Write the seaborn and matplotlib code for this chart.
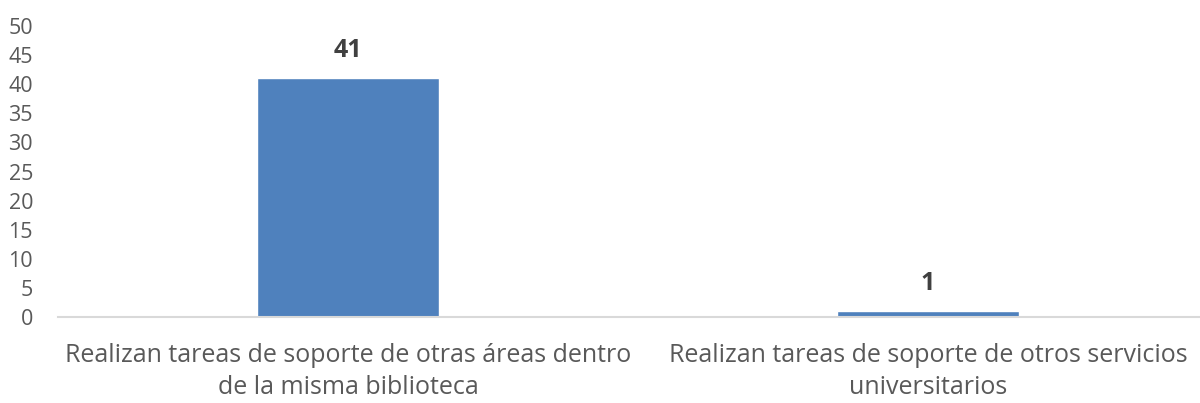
import matplotlib
matplotlib.use("Agg")
import matplotlib.pyplot as plt
import seaborn as sns
import pandas as pd

categories = [
    "Realizan tareas de soporte de otras áreas dentro\nde la misma biblioteca",
    "Realizan tareas de soporte de otros servicios\nuniversitarios",
]
values = [41, 1]
yticks = list(range(0, 55, 5))

sns.set_theme(style="white")
plt.rcParams["font.family"] = ["Open Sans", "DejaVu Sans"]

df = pd.DataFrame({"categoria": categories, "valor": values})

fig = plt.figure(figsize=(12, 4.03), dpi=100)
ax = fig.add_axes([58 / 1200, 86 / 403, 1142 / 1200, 291 / 403])

sns.barplot(data=df, x="categoria", y="valor", color="#4F81BD",
            saturation=1, width=0.315, ax=ax)

ax.set_xlim(-0.5, -0.5 + 1142 / 580)
ax.set_ylim(0, 50)
ax.set_yticks(yticks)
ax.set_yticklabels([str(t) for t in yticks], fontsize=15.5, color="#595959")
ax.tick_params(axis="y", length=0, pad=18)
ax.tick_params(axis="x", length=0, pad=19, labelsize=18, labelcolor="#595959")
ax.set_xlabel("")
ax.set_ylabel("")

for side in ["top", "right", "left"]:
    ax.spines[side].set_visible(False)
ax.spines["bottom"].set_color("#D9D9D9")
ax.spines["bottom"].set_linewidth(1.5)

for patch, v in zip(ax.patches, values):
    ax.text(patch.get_x() + patch.get_width() / 2, v + 2.6, str(v),
            ha="center", va="bottom", fontsize=18, fontweight="bold",
            color="#404040")

for lbl in ax.get_xticklabels():
    lbl.set_linespacing(1.35)

fig.savefig("out.png", dpi=100)
